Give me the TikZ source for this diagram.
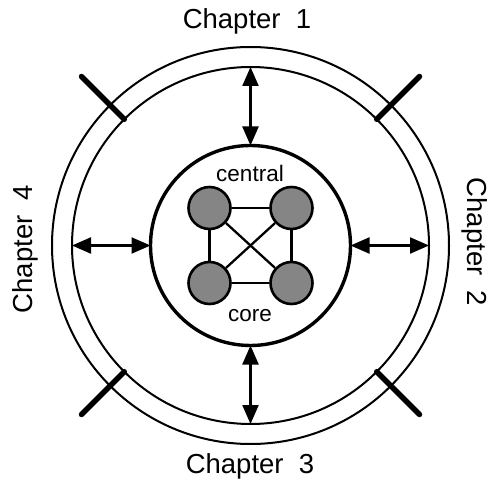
\documentclass[tikz,border=0pt]{standalone}
\usepackage{fontspec}
\setmainfont{Liberation Sans}
\usetikzlibrary{arrows.meta,calc}
\begin{document}
\begin{tikzpicture}[x=1pt,y=-1pt,
  ring/.style={circle, draw, line width=2pt, inner sep=0pt, outer sep=0pt},
  corering/.style={circle, draw, line width=3.4pt, inner sep=0pt, outer sep=0pt},
  sepbar/.style={line width=5.5pt, line cap=round},
  dart/.style={line width=2.2pt, {Triangle[length=19pt,width=16pt]}-{Triangle[length=19pt,width=16pt]}},
  chap/.style={font=\fontsize{27.5}{30}\selectfont, inner sep=0pt, anchor=base},
  corelabel/.style={font=\fontsize{22.5}{25}\selectfont, inner sep=0pt, anchor=base},
  hub/.style={circle, draw, line width=2.6pt, fill=black!48, minimum size=42pt, inner sep=0pt},
  link/.style={line width=2.3pt}]
\useasboundingbox (0,0) rectangle (490,481);
\coordinate (O) at (250.5,245.5);
% rings
\node[ring, minimum size=397pt] (outer) at (O) {};
\node[ring, minimum size=357pt] (inner) at (O) {};
\node[corering, minimum size=200pt] (core) at (O) {};
% separators
\foreach \a/\n in {45/ne,135/nw,225/sw,315/se}{
  \coordinate (sep\n) at ($(O)+(-\a:239)$);
  \draw[sepbar] (inner.\a) -- (sep\n);
}
% arrows
\draw[dart] (inner.north) -- (core.north);
\draw[dart] (inner.south) -- (core.south);
\draw[dart] (inner.west) -- (core.west);
\draw[dart] (inner.east) -- (core.east);
% hubs
\node[hub] (tl) at ($(O)+(-41,-37.5)$) {};
\node[hub] (tr) at ($(O)+(41,-37.5)$) {};
\node[hub] (bl) at ($(O)+(-41,37.5)$) {};
\node[hub] (br) at ($(O)+(41,37.5)$) {};
\draw[link] (tl) -- (tr);
\draw[link] (bl) -- (br);
\draw[link] (tl) -- (bl);
\draw[link] (tr) -- (br);
\draw[link] (tl) -- (br);
\draw[link] (tr) -- (bl);
% labels
\node[corelabel] (central) at (250,181.5) {central};
\node[corelabel] (corelbl) at (250,321.5) {core};
\node[chap] (ch1) at (247,28.5) {Chapter\ \ 1};
\node[chap] (ch3) at (250,473) {Chapter\ \ 3};
\node[chap, rotate=-90] (ch2) at (467,242) {Chapter\ \ 2};
\node[chap, rotate=90] (ch4) at (32,249) {Chapter\ \ 4};
\end{tikzpicture}
\end{document}
